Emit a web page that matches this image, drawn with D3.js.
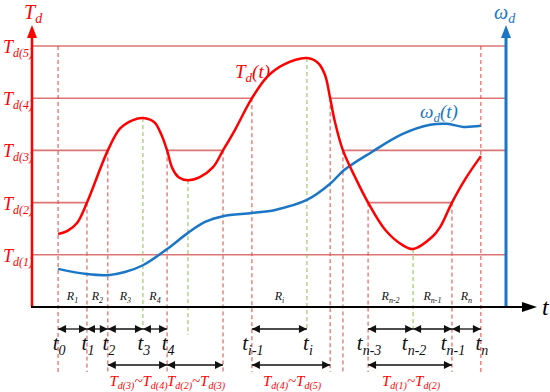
<!DOCTYPE html>
<html>
<head>
<meta charset="utf-8">
<script src="https://cdn.jsdelivr.net/npm/d3@7"></script>
<style>
  body { margin: 0; background: #fff; }
  text { font-family: 'Liberation Serif', 'DejaVu Serif', serif; font-style: italic; }
</style>
</head>
<body>
<div id="chart"></div>
<script>
// time instants on a 0..100 scale, with their subscripts
const tickNames = ['0', '1', '2', '3', '4', 'i-1', 'i', 'n-3', 'n-2', 'n-1', 'n'];
const tickTimes = [5.5, 11.6, 16.0, 23.4, 28.5, 46.4, 58.0, 70.9, 80.4, 88.6, 94.7];

// torque levels Td(1)..Td(5)
const levels = [1, 2, 3, 4, 5];
// visible pieces of every level line
const levelSegments = [
  [[0, 100]],
  [[0, 11.6], [70.9, 88.6]],
  [[0, 16.0], [28.5, 40.3], [65.6, 100]],
  [[0, 46.4], [62.9, 100]],
  [[0, 100]]
];

// red dashed lines: crossing instants and the level they start from
const dashTimes = [5.5, 11.6, 16.0, 28.5, 40.3, 46.4, 62.9, 65.6, 70.9, 88.6, 94.7];
const dashTops = [5, 2, 3, 3, 3, 4, 4, 3, 2, 2, 5];
// green dashed lines at the extrema of Td(t)
const extremaTimes = [23.4, 32.9, 58.0, 80.4];
const extremaLevels = [3.62, 2.43, 4.77, 1.11];

// Td(t) curve
const torque = [
  [5.5, 1.40], [7.5, 1.46], [9.5, 1.61], [11.6, 2.0], [16.0, 3.0], [18.6, 3.42],
  [21.3, 3.58], [23.4, 3.62], [25.8, 3.54], [27.3, 3.3], [28.5, 3.0], [29.6, 2.66],
  [31.0, 2.48], [32.9, 2.43], [35.4, 2.49], [38.2, 2.68], [40.3, 3.0], [42.8, 3.39],
  [46.4, 4.0], [49.6, 4.41], [53.0, 4.64], [58.0, 4.77], [60.3, 4.68], [61.8, 4.45],
  [62.9, 4.0], [63.9, 3.55], [65.6, 3.0], [68.1, 2.5], [70.9, 2.0], [74.5, 1.48],
  [78.1, 1.19], [80.4, 1.11], [84.4, 1.34], [86.1, 1.53], [88.6, 2.0], [91.4, 2.45],
  [94.7, 2.89]
];

// wd(t) curve
const speed = [
  [5.5, 0.73], [11.6, 0.63], [16.0, 0.61], [19.6, 0.67], [23.4, 0.80], [28.5, 1.11],
  [32.9, 1.42], [36.5, 1.63], [40.3, 1.74], [46.4, 1.80], [51.3, 1.86], [58.0, 2.05],
  [62.9, 2.36], [65.8, 2.62], [71.7, 2.97], [78.1, 3.31], [84.0, 3.49], [87.6, 3.51],
  [91.0, 3.45], [94.7, 3.47]
];

// regions R between ticks (indexes into tickTimes)
const regionNames = ['1', '2', '3', '4', 'i', 'n-2', 'n-1', 'n'];
const regionSpans = [[0, 1], [1, 2], [2, 3], [3, 4], [5, 6], [7, 8], [8, 9], [9, 10]];

// level bands shown in the bottom row
const bandSpans = [[16.0, 28.5], [28.5, 40.3], [46.4, 62.9], [70.9, 88.6]];
const bandLevels = [['3', '4'], ['2', '3'], ['4', '5'], ['1', '2']];

const width = 550;
const height = 392;
const margin = { top: 46, right: 44, bottom: 85, left: 32 };
const row1 = 329;
const row2 = 365;
const dashEnd = 372;

const red = '#ff0000';
const blue = '#1b76c6';
const lineRed = '#db7474';
const serif = 'Liberation Serif';

const svg = d3.select('#chart')
  .append('svg')
  .attr('width', width)
  .attr('height', height);

const x = d3.scaleLinear()
  .domain([0, 100])
  .range([margin.left, width - margin.right]);

const y = d3.scaleLinear()
  .domain([0, 5])
  .range([height - margin.bottom, margin.top]);

const y0 = y(0);

// arrow marker for the double arrows
svg.append('defs').append('marker')
  .attr('id', 'head')
  .attr('viewBox', '0 0 10 10')
  .attr('refX', 10)
  .attr('refY', 5)
  .attr('markerUnits', 'userSpaceOnUse')
  .attr('markerWidth', 10)
  .attr('markerHeight', 8)
  .attr('orient', 'auto-start-reverse')
  .append('path')
  .attr('d', 'M0,0L10,5L0,10Z')
  .attr('fill', '#111');

// level lines
levels.forEach((lv, i) => {
  svg.append('g')
    .selectAll('line')
    .data(levelSegments[i])
    .join('line')
    .attr('x1', d => x(d[0]))
    .attr('x2', d => x(d[1]))
    .attr('y1', y(lv))
    .attr('y2', y(lv))
    .attr('stroke', lineRed)
    .attr('stroke-width', 1.6);
});

// red dashed guides
svg.append('g')
  .selectAll('line')
  .data(dashTimes)
  .join('line')
  .attr('x1', d => x(d))
  .attr('x2', d => x(d))
  .attr('y1', (d, i) => y(dashTops[i]))
  .attr('y2', dashEnd)
  .attr('stroke', '#e0463f')
  .attr('stroke-width', 1)
  .attr('stroke-dasharray', '4,3');

// green dashed guides
svg.append('g')
  .selectAll('line')
  .data(extremaTimes)
  .join('line')
  .attr('x1', d => x(d))
  .attr('x2', d => x(d))
  .attr('y1', (d, i) => y(extremaLevels[i]))
  .attr('y2', d => tickTimes.includes(d) ? row1 : row1 + 6)
  .attr('stroke', '#8cbf4a')
  .attr('stroke-width', 1)
  .attr('stroke-dasharray', '4,3');

// curves
const line = d3.line()
  .x(d => x(d[0]))
  .y(d => y(d[1]))
  .curve(d3.curveCatmullRom.alpha(0.5));

svg.append('path')
  .datum(speed)
  .attr('d', line)
  .attr('fill', 'none')
  .attr('stroke', blue)
  .attr('stroke-width', 2.5);

svg.append('path')
  .datum(torque)
  .attr('d', line)
  .attr('fill', 'none')
  .attr('stroke', red)
  .attr('stroke-width', 2.5);

// axes
const axisTop = 25;
svg.append('line')
  .attr('x1', x(0)).attr('x2', x(0))
  .attr('y1', y0).attr('y2', axisTop + 10)
  .attr('stroke', red).attr('stroke-width', 2.5);
svg.append('path')
  .attr('d', `M${x(0)},${axisTop}L${x(0) - 5},${axisTop + 13}L${x(0) + 5},${axisTop + 13}Z`)
  .attr('fill', red);

svg.append('line')
  .attr('x1', x(100)).attr('x2', x(100))
  .attr('y1', y0).attr('y2', axisTop + 10)
  .attr('stroke', blue).attr('stroke-width', 3);
svg.append('path')
  .attr('d', `M${x(100)},${axisTop}L${x(100) - 5},${axisTop + 13}L${x(100) + 5},${axisTop + 13}Z`)
  .attr('fill', blue);

const tEnd = 537;
svg.append('line')
  .attr('x1', x(0) - 1).attr('x2', tEnd - 10)
  .attr('y1', y0).attr('y2', y0)
  .attr('stroke', '#000').attr('stroke-width', 2);
svg.append('path')
  .attr('d', `M${tEnd},${y0}L${tEnd - 15},${y0 - 5}L${tEnd - 15},${y0 + 5}Z`)
  .attr('fill', '#000');

// double arrows
const arrows = (spans, yy) => svg.append('g')
  .selectAll('line')
  .data(spans)
  .join('line')
  .attr('x1', d => x(d[0]))
  .attr('x2', d => x(d[1]))
  .attr('y1', yy)
  .attr('y2', yy)
  .attr('stroke', '#111')
  .attr('stroke-width', 1.3)
  .attr('marker-start', 'url(#head)')
  .attr('marker-end', 'url(#head)');

arrows(regionSpans.map(s => [tickTimes[s[0]], tickTimes[s[1]]]), row1);
arrows(bandSpans, row2);

// text with subscript
const label = (px, py, main, sub, rest, size, subSize, color, anchor) => {
  const t = svg.append('text')
    .attr('x', px)
    .attr('y', py)
    .attr('fill', color)
    .attr('font-family', serif)
    .attr('font-style', 'italic')
    .attr('font-size', size)
    .attr('text-anchor', anchor || 'start');
  t.append('tspan').text(main);
  t.append('tspan').attr('font-size', subSize).attr('dy', size * 0.22).text(sub);
  if (rest) t.append('tspan').attr('dy', -size * 0.22).text(rest);
  return t;
};

label(x(0) - 8, 19, 'T', 'd', null, 20, 14, red);
label(x(100) - 12, 19, 'ω', 'd', null, 20, 14, blue);
svg.append('text')
  .attr('x', 542).attr('y', 315)
  .attr('font-family', serif)
  .attr('font-style', 'italic')
  .attr('font-size', 24)
  .text('t');

levels.forEach(lv => {
  label(3, y(lv) + 7, 'T', `d(${lv})`, null, 18, 12, red);
});

label(235, 78, 'T', 'd', '(t)', 19, 13, red);
label(420, 118, 'ω', 'd', '(t)', 19, 13, blue);

regionNames.forEach((n, i) => {
  const s = regionSpans[i];
  label((x(tickTimes[s[0]]) + x(tickTimes[s[1]])) / 2, 300, 'R', n, null, 12, 8, '#111', 'middle');
});

tickNames.forEach((n, i) => {
  label(x(tickTimes[i]) + 1, 350, 't', n, null, 21, 14, '#111', 'middle');
});

bandLevels.forEach((b, i) => {
  const t = svg.append('text')
    .attr('x', (x(bandSpans[i][0]) + x(bandSpans[i][1])) / 2 + 1)
    .attr('y', 386)
    .attr('fill', red)
    .attr('font-family', serif)
    .attr('font-style', 'italic')
    .attr('font-size', 15)
    .attr('text-anchor', 'middle');
  t.append('tspan').text('T');
  t.append('tspan').attr('font-size', 10).attr('dy', 3).text(`d(${b[0]})`);
  t.append('tspan').attr('dy', -3).text('~T');
  t.append('tspan').attr('font-size', 10).attr('dy', 3).text(`d(${b[1]})`);
});
</script>
</body>
</html>
